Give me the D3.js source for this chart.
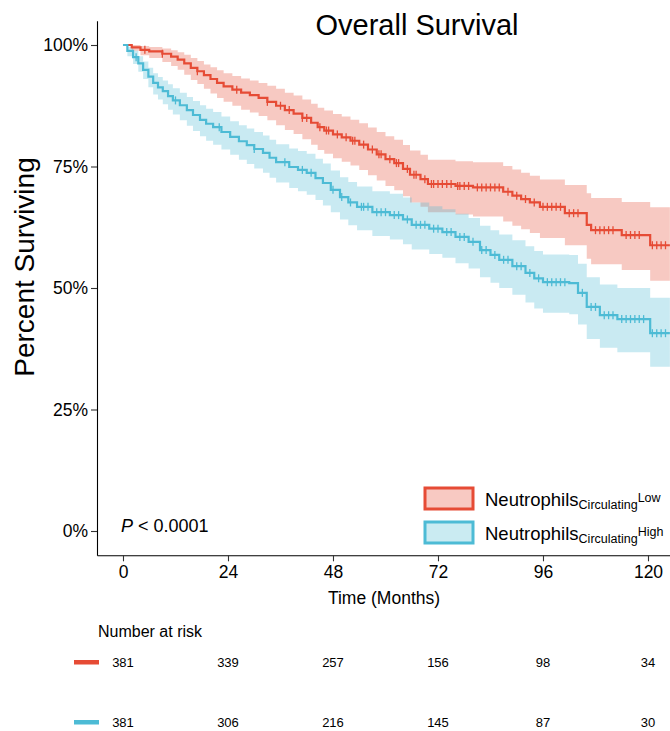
<!DOCTYPE html>
<html>
<head>
<meta charset="utf-8">
<script src="https://cdn.jsdelivr.net/npm/d3@7"></script>
<style>
  body { margin: 0; background: #fff; }
  svg { display: block; font-family: "Liberation Sans", Arial, sans-serif; }
</style>
</head>
<body>
<div id="km_chart"></div>
<script>
// Kaplan-Meier steps: [time, survival, lower CI, upper CI]
const lowSteps = [
  [0, 1.000, 1.000, 1.000], [2, 0.995, 0.988, 1.000], [4, 0.990, 0.979, 0.998],
  [6, 0.987, 0.973, 0.996], [9, 0.982, 0.965, 0.993], [11, 0.976, 0.957, 0.989],
  [12.5, 0.970, 0.949, 0.985], [14, 0.962, 0.939, 0.980], [15.5, 0.953, 0.928, 0.973],
  [17, 0.946, 0.920, 0.967], [18.5, 0.938, 0.910, 0.960], [20, 0.930, 0.900, 0.954],
  [21.5, 0.922, 0.891, 0.948], [23, 0.915, 0.883, 0.942], [25, 0.908, 0.875, 0.936],
  [27, 0.902, 0.867, 0.931], [29, 0.897, 0.861, 0.927], [31, 0.891, 0.854, 0.922],
  [33, 0.883, 0.845, 0.916], [35, 0.875, 0.835, 0.910], [37, 0.866, 0.825, 0.902],
  [39, 0.859, 0.817, 0.896], [41, 0.850, 0.806, 0.888], [43, 0.840, 0.795, 0.879],
  [44.5, 0.831, 0.784, 0.871], [46, 0.824, 0.776, 0.865], [48, 0.816, 0.767, 0.858],
  [50, 0.810, 0.760, 0.853], [52, 0.803, 0.752, 0.846], [54, 0.795, 0.743, 0.839],
  [56, 0.785, 0.732, 0.830], [58, 0.775, 0.721, 0.821], [60, 0.765, 0.710, 0.812],
  [62, 0.757, 0.701, 0.805], [64, 0.745, 0.689, 0.794], [65.6, 0.733, 0.676, 0.783],
  [68, 0.724, 0.667, 0.774], [69.7, 0.714, 0.656, 0.764], [76, 0.710, 0.651, 0.761],
  [80, 0.707, 0.647, 0.759], [86.9, 0.698, 0.637, 0.751], [89, 0.690, 0.628, 0.744],
  [91, 0.683, 0.621, 0.737], [93, 0.676, 0.613, 0.731], [95.3, 0.667, 0.603, 0.723],
  [101, 0.654, 0.588, 0.712], [106, 0.630, 0.560, 0.695], [107, 0.619, 0.549, 0.685],
  [114, 0.609, 0.537, 0.677], [120.5, 0.588, 0.515, 0.666], [125, 0.588, 0.515, 0.666]
];

const highSteps = [
  [0, 1.000, 1.000, 1.000], [1, 0.988, 0.977, 0.996], [2.3, 0.975, 0.961, 0.988],
  [3.5, 0.962, 0.945, 0.977], [4.6, 0.949, 0.930, 0.966], [5.8, 0.935, 0.913, 0.953],
  [6.9, 0.922, 0.898, 0.942], [8, 0.913, 0.888, 0.934], [9.1, 0.905, 0.878, 0.927],
  [10.3, 0.895, 0.867, 0.919], [11.4, 0.886, 0.857, 0.911], [13, 0.876, 0.845, 0.902],
  [14.6, 0.866, 0.834, 0.893], [16, 0.856, 0.823, 0.885], [17.6, 0.846, 0.812, 0.876],
  [19, 0.838, 0.803, 0.869], [20.6, 0.831, 0.795, 0.862], [22.5, 0.821, 0.785, 0.853],
  [24.5, 0.811, 0.774, 0.843], [26.5, 0.802, 0.764, 0.835], [28.3, 0.794, 0.755, 0.828],
  [30, 0.786, 0.746, 0.821], [32, 0.778, 0.737, 0.814], [33.5, 0.768, 0.727, 0.805],
  [35, 0.759, 0.717, 0.796], [38, 0.749, 0.706, 0.787], [40, 0.743, 0.699, 0.782],
  [42, 0.737, 0.692, 0.776], [44, 0.726, 0.681, 0.766], [45.7, 0.716, 0.670, 0.756],
  [47.5, 0.702, 0.656, 0.742], [49.6, 0.687, 0.641, 0.728], [51.5, 0.676, 0.629, 0.718],
  [53.5, 0.667, 0.619, 0.709], [57, 0.656, 0.607, 0.699], [61, 0.650, 0.600, 0.694],
  [64, 0.641, 0.590, 0.686], [66, 0.630, 0.579, 0.676], [70, 0.622, 0.570, 0.668],
  [73, 0.615, 0.562, 0.662], [76, 0.605, 0.551, 0.653], [79, 0.595, 0.540, 0.644],
  [81.6, 0.578, 0.522, 0.628], [84, 0.568, 0.511, 0.619], [86, 0.558, 0.500, 0.610],
  [89, 0.545, 0.486, 0.598], [92, 0.531, 0.470, 0.586], [94, 0.520, 0.458, 0.576],
  [96, 0.512, 0.449, 0.569], [102, 0.510, 0.446, 0.568], [104, 0.490, 0.425, 0.550],
  [106, 0.461, 0.395, 0.522], [109, 0.444, 0.377, 0.507], [113, 0.436, 0.368, 0.500],
  [120.5, 0.407, 0.338, 0.480], [125, 0.407, 0.338, 0.480]
];

// censoring times (months), estimated from the tick marks
const lowCensor = [5, 9, 17, 26, 33, 36, 38, 41, 42, 45, 46.5, 47, 49, 51, 52.5, 53, 55, 57,
  58.5, 59, 61, 62.5, 63, 65, 66.5, 67, 69, 70.5, 71, 72, 73, 74, 75, 76.5, 77, 78, 79, 81,
  82, 83, 84, 85, 86, 88, 90, 92, 94, 96, 97, 98, 99, 100, 102, 103, 104, 108, 109, 110,
  111, 112, 115, 116, 117, 118, 121, 122, 123, 124];
const highCensor = [3, 12, 22, 30, 37, 41, 43, 48, 50, 52, 54.5, 55, 56, 58, 59, 60, 62, 63,
  65, 67, 68, 69, 71, 72, 74, 75, 77, 78, 80, 82, 83, 85, 87, 88, 90, 91, 93, 95, 97, 98,
  99, 100, 101, 105, 107, 108, 110, 111, 112, 114, 115, 116, 117, 118, 119, 121, 122, 123, 124];

const riskTimes = [0, 24, 48, 72, 96, 120];
const riskLow = [381, 339, 257, 156, 98, 34];
const riskHigh = [381, 306, 216, 145, 87, 30];

const xTicks = [0, 24, 48, 72, 96, 120];
const yTicks = [0, 0.25, 0.5, 0.75, 1];

const groups = [
  {name: "Low", steps: lowSteps, censor: lowCensor, risk: riskLow, color: "#E64B35"},
  {name: "High", steps: highSteps, censor: highCensor, risk: riskHigh, color: "#4DBBD5"}
];

const W = 670, H = 731;
const svg = d3.select("#km_chart")
  .append("svg")
  .attr("width", W)
  .attr("height", H);

const x = d3.scaleLinear().domain([-5.94, 125.03]).range([97, 670]);
const y = d3.scaleLinear().domain([-0.05, 1.05]).range([555.3, 20.7]);

// bands
const area = d3.area()
  .curve(d3.curveStepAfter)
  .x(d => x(d[0]))
  .y0(d => y(d[2]))
  .y1(d => y(d[3]));

const line = d3.line()
  .curve(d3.curveStepAfter)
  .x(d => x(d[0]))
  .y(d => y(d[1]));

groups.forEach(g => {
  svg.append("path")
    .attr("d", area(g.steps))
    .attr("fill", g.color)
    .attr("fill-opacity", 0.3);
});

groups.forEach(g => {
  svg.append("path")
    .attr("d", line(g.steps))
    .attr("fill", "none")
    .attr("stroke", g.color)
    .attr("stroke-width", 2.2);

  const bis = d3.bisector(d => d[0]).right;
  const marks = svg.append("g")
    .attr("stroke", g.color)
    .attr("stroke-width", 1.3);
  g.censor.forEach(c => {
    const s = g.steps[bis(g.steps, c) - 1][1];
    marks.append("line")
      .attr("x1", x(c)).attr("x2", x(c))
      .attr("y1", y(s) - 4).attr("y2", y(s) + 4);
  });
});

// axes
const yAxis = svg.append("g")
  .attr("transform", "translate(97,0)")
  .call(d3.axisLeft(y).tickValues(yTicks).tickFormat(d3.format(".0%")).tickSize(6).tickSizeOuter(0).tickPadding(3));
const xAxis = svg.append("g")
  .attr("transform", "translate(0,555.3)")
  .call(d3.axisBottom(x).tickValues(xTicks).tickSize(6).tickSizeOuter(0).tickPadding(4));

[yAxis, xAxis].forEach(a => {
  a.select(".domain").attr("stroke", "#000").attr("stroke-width", 1.1);
  a.selectAll(".tick line").attr("stroke", "#333").attr("stroke-width", 1.1);
  a.selectAll(".tick text")
    .attr("fill", "#000")
    .style("font-size", "17.5px")
    .style("font-family", "Liberation Sans, Arial, sans-serif");
});

// titles
svg.append("text")
  .attr("x", 417).attr("y", 35)
  .attr("text-anchor", "middle")
  .style("font-size", "29px")
  .text("Overall Survival");

svg.append("text")
  .attr("transform", "translate(34,267) rotate(-90)")
  .attr("text-anchor", "middle")
  .style("font-size", "28px")
  .text("Percent Surviving");

svg.append("text")
  .attr("x", 384).attr("y", 604)
  .attr("text-anchor", "middle")
  .style("font-size", "17.5px")
  .text("Time (Months)");

// p-value
const pText = svg.append("text")
  .attr("x", 121).attr("y", 532)
  .style("font-size", "18px");
pText.append("tspan").style("font-style", "italic").text("P");
pText.append("tspan").text(" < 0.0001");

// legend
const legend = svg.append("g");
groups.forEach((g, i) => {
  const top = 488 + i * 34;
  legend.append("rect")
    .attr("x", 425).attr("y", top)
    .attr("width", 48).attr("height", 21)
    .attr("fill", d3.interpolateRgb("#fff", g.color)(0.3))
    .attr("stroke", g.color)
    .attr("stroke-width", 3);
  const t = legend.append("text")
    .attr("x", 485).attr("y", top + 18)
    .style("font-size", "18.5px");
  t.append("tspan").text("Neutrophils");
  t.append("tspan").attr("dy", 3).style("font-size", "12.5px").text("Circulating");
  t.append("tspan").attr("dy", -7).style("font-size", "12.5px").text(g.name);
});

// risk table
svg.append("text")
  .attr("x", 98).attr("y", 637)
  .style("font-size", "16px")
  .text("Number at risk");

groups.forEach((g, i) => {
  const base = 667 + i * 60;
  svg.append("rect")
    .attr("x", 74).attr("y", base - 7)
    .attr("width", 25).attr("height", 4.5)
    .attr("fill", g.color);
  svg.append("g")
    .selectAll("text")
    .data(g.risk)
    .join("text")
    .attr("x", (d, j) => x(riskTimes[j]))
    .attr("y", base)
    .attr("text-anchor", "middle")
    .style("font-size", "13px")
    .text(d => d);
});
</script>
</body>
</html>
